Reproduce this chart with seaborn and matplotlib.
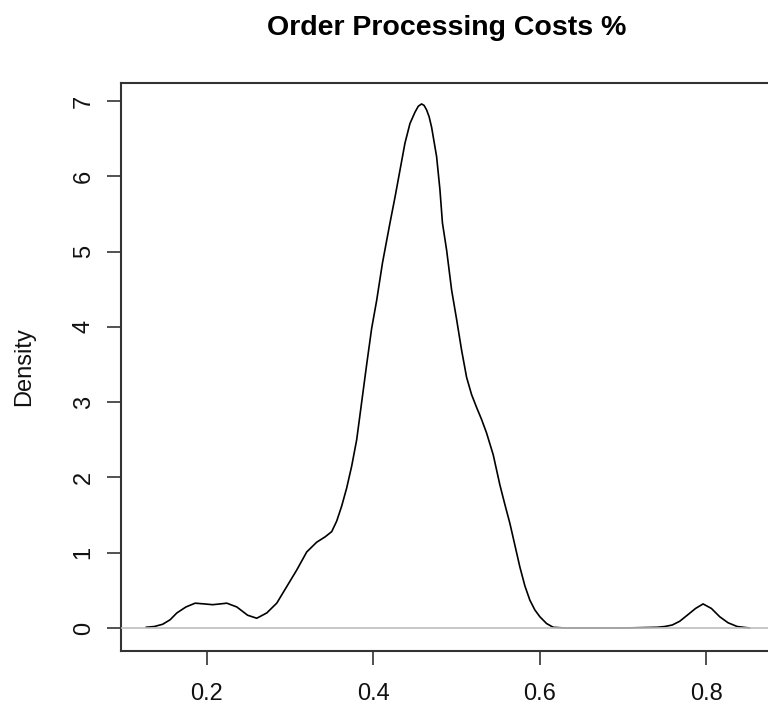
import matplotlib
matplotlib.use("Agg")
import matplotlib.pyplot as plt
import seaborn as sns
import pandas as pd

# Density curve (x = cost share, y = density)
cost_share = [0.127, 0.137, 0.147, 0.156, 0.164, 0.175, 0.186, 0.197, 0.207, 0.216,
              0.224, 0.236, 0.249, 0.260, 0.272, 0.284, 0.296, 0.308, 0.320, 0.332,
              0.342, 0.350, 0.356, 0.362, 0.368, 0.374, 0.380, 0.386, 0.392, 0.398,
              0.404, 0.411, 0.420, 0.426, 0.432, 0.438, 0.444, 0.450, 0.454, 0.458,
              0.461, 0.464, 0.467, 0.470, 0.476, 0.480, 0.483, 0.488, 0.494, 0.500,
              0.506, 0.512, 0.518, 0.524, 0.530, 0.536, 0.544, 0.552, 0.558, 0.564,
              0.570, 0.576, 0.582, 0.588, 0.594, 0.600, 0.608, 0.616, 0.630, 0.660,
              0.700, 0.741, 0.750, 0.759, 0.768, 0.777, 0.787, 0.796, 0.806, 0.816,
              0.826, 0.837, 0.852]
density = [0.01, 0.02, 0.05, 0.11, 0.20, 0.28, 0.33, 0.32, 0.31, 0.32,
           0.33, 0.28, 0.17, 0.13, 0.20, 0.33, 0.55, 0.77, 1.01, 1.14,
           1.21, 1.28, 1.42, 1.62, 1.86, 2.15, 2.50, 3.00, 3.50, 3.98,
           4.35, 4.85, 5.38, 5.72, 6.08, 6.44, 6.70, 6.85, 6.93, 6.96,
           6.94, 6.88, 6.79, 6.65, 6.26, 5.82, 5.38, 5.02, 4.49, 4.10,
           3.69, 3.33, 3.10, 2.93, 2.77, 2.59, 2.30, 1.90, 1.64, 1.39,
           1.10, 0.81, 0.56, 0.37, 0.24, 0.15, 0.06, 0.01, 0.00, 0.00,
           0.00, 0.01, 0.02, 0.04, 0.09, 0.17, 0.26, 0.32, 0.26, 0.15,
           0.07, 0.02, 0.00]

x_ticks = [0.2, 0.4, 0.6, 0.8]
x_tick_labels = ["0.2", "0.4", "0.6", "0.8"]
y_ticks = [0, 1, 2, 3, 4, 5, 6, 7]
title = "Order Processing Costs %"

sns.set_style("white")
plt.rcParams["font.family"] = ["Liberation Sans", "DejaVu Sans"]

df = pd.DataFrame({"x": cost_share, "y": density})

fig = plt.figure(figsize=(7.68, 7.04), dpi=100)
ax = fig.add_axes([0.1576, 0.0753, 0.850, 0.807])

sns.lineplot(data=df, x="x", y="y", ax=ax, color="black", linewidth=1.2, zorder=2)
ax.axhline(0, color="#BEBEBE", linewidth=1.2, zorder=3)

ax.set_xlim(0.097, 0.881)
ax.set_ylim(-0.305, 7.24)
ax.set_xticks(x_ticks)
ax.set_xticklabels(x_tick_labels)
ax.set_yticks(y_ticks)
ax.set_yticklabels([str(v) for v in y_ticks], rotation=90, va="center")

for s in ax.spines.values():
    s.set_color("#333333")
    s.set_linewidth(1.5)
    s.set_visible(True)

ax.tick_params(axis="both", which="major", bottom=True, left=True, direction="out",
               length=10, width=1.2, color="#333333",
               labelsize=17, labelcolor="#111111", pad=10)
ax.tick_params(axis="x", pad=13)
ax.tick_params(axis="y", pad=9)
ax.set_xlabel("")
ax.set_ylabel("Density", fontsize=17, labelpad=27, color="#111111")
fig.text(0.582, 1 - 35 / 704, title, ha="center", va="baseline",
         fontsize=20.5, fontweight="bold", color="black")

fig.savefig("out.png", dpi=100)
